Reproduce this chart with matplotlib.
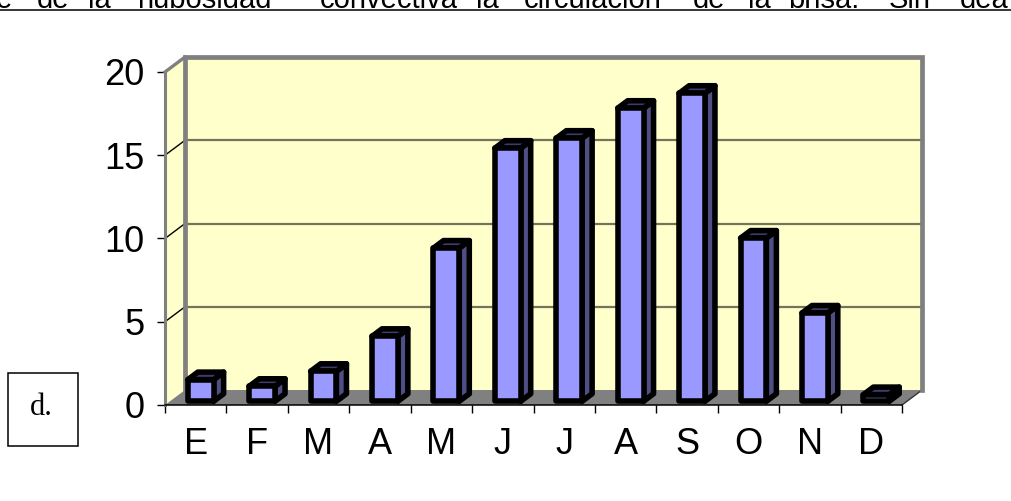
import numpy as np
import matplotlib
matplotlib.use('Agg')
import matplotlib.pyplot as plt
from matplotlib.patches import Polygon, Rectangle
from matplotlib.lines import Line2D

#%% data

months = ['E', 'F', 'M', 'A', 'M', 'J', 'J', 'A', 'S', 'O', 'N', 'D']
values = [1.3, 0.9, 1.8, 3.9, 9.2, 15.2, 15.8, 17.6, 18.5, 9.8, 5.3, 0.4]
yticks = [0, 5, 10, 15, 20]

header_words = ['e', 'de', 'la', 'nubosidad', 'convectiva', 'la', 'circulación',
                'de', 'la', 'brisa.', 'Sin', 'dea']
header_x = [-4, 37, 88, 137, 320, 476, 524, 693, 748, 788, 889, 960]

#%% styling

wall = '#ffffcc'
frame = '#808080'
front = '#9999ff'
side = '#4f4f85'
top = '#3c3c6e'
ddx, ddy = 0.326, 0.9      # depth of the floor in data units
bw, f1, bd = 0.42, 0.25, 0.5   # bar width, bar front depth, bar depth

plt.rcParams['font.family'] = ['Liberation Sans', 'DejaVu Sans']

fig = plt.figure(figsize=(10.11, 5.01), dpi=100)
ax = fig.add_axes([165/1011, 96/501, 737/1011, 333/501])
n = len(months)
ax.set_xlim(0, n)
ax.set_ylim(0, 20)
ax.set_facecolor('none')

# back wall, left wall and floor
ax.add_patch(Rectangle((ddx, ddy), n, 20, facecolor=wall, edgecolor='none', zorder=0,
                       clip_on=False))
ax.add_patch(Polygon([(0, 0), (ddx, ddy), (ddx, 20 + ddy), (0, 20)],
                     closed=True, facecolor=wall, edgecolor='none', zorder=0, clip_on=False))
for v in yticks[1:-1]:
    ax.plot([ddx, n + ddx], [v + ddy, v + ddy], color='#74745a', lw=1.6, zorder=1, clip_on=False)
    ax.plot([0, ddx], [v, v + ddy], color='black', lw=1.0, zorder=1, clip_on=False)
ax.add_patch(Polygon([(0, 0), (n, 0), (n + ddx, ddy), (ddx, ddy)], closed=True,
                     facecolor=frame, edgecolor='none', zorder=1, clip_on=False))
ax.plot([n, n + ddx], [0, ddy], color='#333333', lw=1.0, zorder=1, clip_on=False)

# wall frame
ax.plot([ddx, ddx, n + ddx, n + ddx], [ddy, 20 + ddy, 20 + ddy, ddy],
        color=frame, lw=3.4, zorder=2, clip_on=False, solid_joinstyle='miter')
ax.plot([0, ddx], [20, 20 + ddy], color=frame, lw=2.4, zorder=2, clip_on=False)

# bars
ox, oy = bd * ddx, bd * ddy
for i, v in enumerate(values):
    x0 = i + 0.5 - bw / 2 + f1 * ddx
    y0 = f1 * ddy
    kw = dict(closed=True, edgecolor='black', lw=4.0, joinstyle='round', zorder=3, clip_on=False)
    ax.add_patch(Polygon([(x0 + bw, y0), (x0 + bw + ox, y0 + oy),
                          (x0 + bw + ox, y0 + v + oy), (x0 + bw, y0 + v)], facecolor=side, **kw))
    ax.add_patch(Polygon([(x0, y0 + v), (x0 + bw, y0 + v),
                          (x0 + bw + ox, y0 + v + oy), (x0 + ox, y0 + v + oy)], facecolor=top, **kw))
    ax.add_patch(Polygon([(x0, y0), (x0 + bw, y0), (x0 + bw, y0 + v), (x0, y0 + v)],
                         facecolor=front, **kw))

# axes
for s in ['top', 'right']:
    ax.spines[s].set_visible(False)
ax.spines['left'].set_color(frame)
ax.spines['left'].set_linewidth(2.2)
ax.spines['bottom'].set_color('black')
ax.spines['bottom'].set_linewidth(1.1)
ax.spines['bottom'].set_zorder(4)
ax.set_yticks(yticks)
ax.set_yticklabels([str(t) for t in yticks], fontsize=26)
ax.set_xticks(np.arange(n + 1))
ax.set_xticklabels([''] * (n + 1))
ax.set_xticks(np.arange(n) + 0.5, minor=True)
ax.set_xticklabels(months, minor=True, fontsize=26)
ax.tick_params(axis='y', length=5.8, width=1.0, pad=9.0, color='black')
ax.tick_params(axis='x', which='major', length=5.8, width=1.0, color='black')
ax.tick_params(axis='x', which='minor', length=0, pad=16.0)

# clipped header line of body text
for w, x in zip(header_words, header_x):
    fig.text(x / 1011, 1 - 8.5 / 501, w, fontsize=21, va='baseline', ha='left')
fig.add_artist(Line2D([0, 1], [1 - 9.5 / 501] * 2, color='black', lw=1.1))

# panel label box
fig.add_artist(Rectangle((8 / 1011, (501 - 446) / 501), 70 / 1011, 73 / 501,
                         facecolor='white', edgecolor='black', lw=1.1))
fig.text(41 / 1011, (501 - 415) / 501, 'd.', fontsize=22, ha='center', va='baseline',
         family=['Liberation Serif', 'DejaVu Serif'])

fig.savefig('out.png', dpi=100)
